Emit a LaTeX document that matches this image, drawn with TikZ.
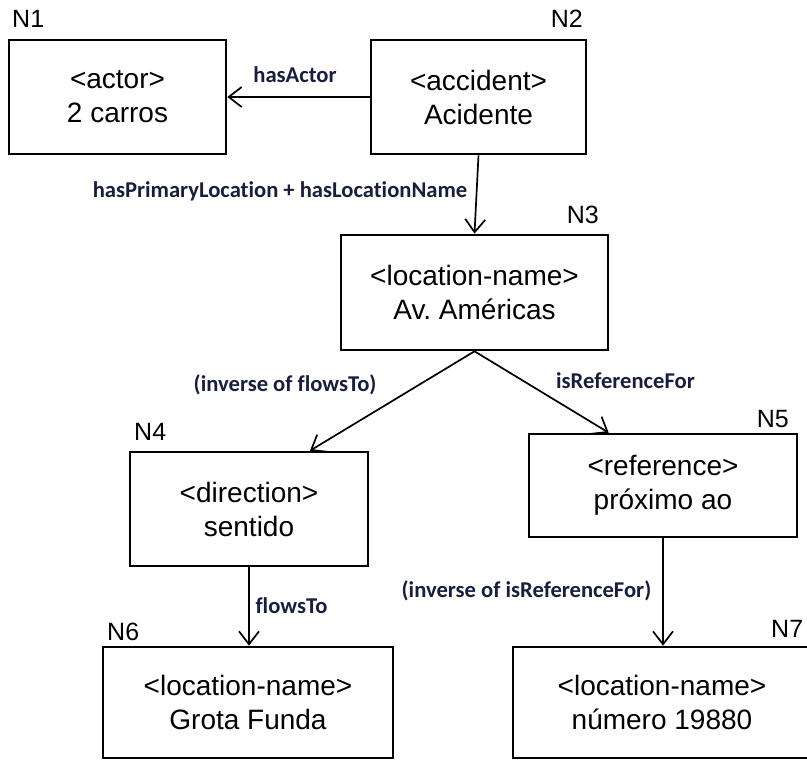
\documentclass[tikz,border=0pt]{standalone}
\usepackage{fontspec}
\setmainfont{Liberation Sans}
\newfontfamily\edgefont{Carlito}[Ligatures={NoCommon,NoContextual}]
\usetikzlibrary{arrows.meta,calc}
\definecolor{edgeink}{RGB}{24,30,62}
\frenchspacing
\begin{document}
\begin{tikzpicture}[x=1pt,y=-1pt,
  concept/.style={draw, line width=2.6pt, rectangle, align=center, inner sep=0pt,
                  font=\fontsize{28}{34}\selectfont},
  tag/.style={font=\fontsize{25}{30}\selectfont, inner sep=0pt},
  rel/.style={font=\edgefont\bfseries\fontsize{22.6}{27}\selectfont, text=edgeink,
              inner sep=0pt, anchor=base},
  link/.style={draw, line width=1.7pt, -{Straight Barb[length=13pt,width=20pt]}}]
\useasboundingbox (0,0) rectangle (807,760);
\clip (0,0) rectangle (807,760);

% concept boxes
\node[concept, minimum width=217pt, minimum height=114pt] (n1) at (117.5,97)
  {<actor>\\2 carros};
\node[concept, minimum width=215pt, minimum height=114pt] (n2) at (478.5,97)
  {<accident>\\Acidente};
\node[concept, minimum width=267pt, minimum height=115pt] (n3) at (474.5,292.5)
  {<location-name>\\Av. Américas};
\node[concept, minimum width=238pt, minimum height=114pt] (n4) at (249,509)
  {<direction>\\sentido};
\node[concept, minimum width=268pt, minimum height=103pt] (n5) at (663,485.5)
  {<reference>\\próximo ao};
\node[concept, minimum width=290pt, minimum height=111pt] (n6) at (248,702.5)
  {<location-name>\\Grota Funda};
\node[concept, minimum width=298pt, minimum height=111pt] (n7) at (662,702.5)
  {<location-name>\\número 19880};

% node identifiers
\node[tag, anchor=base west] (t1) at (12,28) {N1};
\node[tag, anchor=base east] (t2) at (583,28) {N2};
\node[tag, anchor=base east] (t3) at (599,223) {N3};
\node[tag, anchor=base west] (t4) at (134,440) {N4};
\node[tag, anchor=base east] (t5) at (789,427) {N5};
\node[tag, anchor=base west] (t6) at (107,640) {N6};
\node[tag, anchor=base west] (t7) at (771,637) {N7};

% relations
\draw[link] (n2.west) -- (n1.east);
\draw[link] (n2.south) -- (n3.north);
\draw[link] (n3.south) -- ($(n4.north)+(61,0)$);
\draw[link] (n3.south) -- ($(n5.north west)+(81,0)$);
\draw[link] (n4.south) -- (n4.south |- n6.north);
\draw[link] (n5.south) -- (n5.south |- n7.north);

% relation labels
\node[rel] (r1) at (295,83) {hasActor};
\node[rel] (r2) at (280,197) {hasPrimaryLocation + hasLocationName};
\node[rel] (r3) at (285,391) {(inverse of flowsTo)};
\node[rel] (r4) at (625.5,388) {isReferenceFor};
\node[rel] (r5) at (291.5,613) {flowsTo};
\node[rel] (r6) at (526.5,597) {(inverse of isReferenceFor)};
\end{tikzpicture}
\end{document}
